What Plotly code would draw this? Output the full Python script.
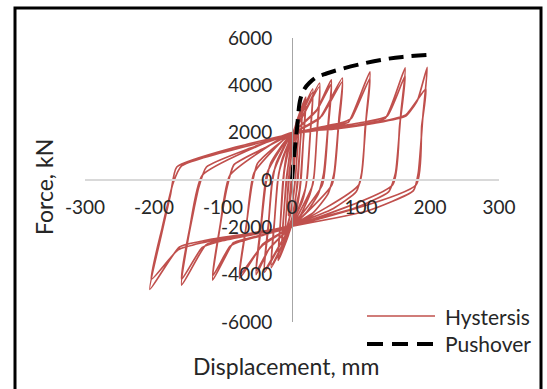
import plotly.graph_objects as go

# ---- data -------------------------------------------------------------
x_ticks = [-300, -200, -100, 0, 100, 200, 300]
x_tick_text = ["-300", "-200", "-100", "0", "100", "200", "300"]
y_ticks = [-6000, -4000, -2000, 0, 2000, 4000, 6000]
y_tick_text = ["-6000", "-4000", "-2000", "0", "2000", "4000", "6000"]

# Monotonic pushover curve (mm, kN)
push_disp = [0, 3, 7, 12, 18, 25, 36, 50, 70, 100, 130, 160, 200]
push_force = [0, 1000, 2100, 3400, 3850, 4100, 4350, 4500, 4680, 4900, 5080, 5200, 5290]

# Cyclic response, one block per amplitude level (two cycles each)
lvl05_disp = [0, 2, 5, 3, 0, -3, -5, -3, 0, 3, 5, 2, -2, -5, -2, 0]
lvl05_force = [0, 800, 1500, 600, -200, -900, -1500, -600, 200, 900, 1450, 300, -700, -1450, -300, 300]

lvl10_disp = [4, 8, 10, 8, 5, 0, -5, -10, -8, -5, 0, 5, 10, 7, 3, -3, -10, -7, -3, 0]
lvl10_force = [1300, 2100, 2400, 1400, 100, -1100, -1800, -2300, -1300, 0, 1200, 1900, 2350, 900, -400, -1500, -2250, -900, 400, 1300]

lvl15_disp = [5, 11, 15, 12, 8, 0, -6, -11, -15, -12, -8, 0, 6, 15, 11, 6, 0, -7, -15, -11, -6, 0]
lvl15_force = [2000, 2600, 3000, 1600, -200, -1600, -2100, -2500, -2900, -1500, 100, 1600, 2100, 2950, 1200, -600, -1700, -2200, -2850, -1100, 500, 1700]

lvl20_disp = [6, 20, 17, 13, 7, 0, -6, -20, -17, -13, -7, 0, 7, 20, 16, 11, 0, -7, -20, -16, -11, 0]
lvl20_force = [2400, 3500, 2000, 0, -1200, -1800, -2400, -3400, -1900, 0, 1200, 1850, 2450, 3400, 1500, -400, -1850, -2450, -3300, -1500, 400, 1900]

lvl30_disp = [9, 30, 27, 22, 15, 0, -9, -30, -26, -21, -14, 0, 10, 30, 26, 20, 0, -10, -30, -25, -19, 0]
lvl30_force = [2500, 3850, 2200, 100, -900, -1850, -2450, -3700, -2000, -100, 900, 1900, 2550, 3700, 1800, -300, -1900, -2500, -3600, -1600, 300, 1950]

lvl40_disp = [12, 40, 37, 32, 26, 12, 0, -12, -40, -35, -29, -23, -10, 0, 13, 40, 36, 30, 0, -13, -40, -34, -27, 0]
lvl40_force = [2500, 4100, 2400, 200, -600, -1500, -1900, -2450, -3900, -2200, -200, 700, 1500, 1950, 2550, 3950, 1900, -200, -1950, -2500, -3800, -1800, 300, 2000]

lvl55_disp = [15, 35, 57, 53, 46, 38, 20, 0, -15, -33, -52, -46, -38, -31, -15, 0, 16, 37, 57, 52, 44, 0, -16, -34, -52, -45, -36, 0]
lvl55_force = [2350, 2900, 4230, 2600, 300, -600, -1400, -1900, -2350, -2900, -4000, -2300, -200, 700, 1450, 1950, 2400, 3000, 4050, 2100, -200, -1950, -2400, -2950, -3850, -1900, 300, 2000]

lvl75_disp = [20, 40, 73, 68, 61, 52, 30, 0, -20, -42, -76, -68, -58, -50, -25, 0, 21, 43, 73, 67, 58, 0, -21, -44, -76, -66, -55, 0]
lvl75_force = [2250, 2600, 4310, 2600, 300, -600, -1400, -1900, -2300, -2700, -4150, -2300, -200, 700, 1400, 1950, 2300, 2700, 4150, 2100, -200, -1950, -2350, -2800, -4000, -1900, 300, 2000]

lvl113_disp = [35, 70, 82, 113, 108, 101, 93, 60, 0, -35, -75, -85, -115, -106, -94, -84, -40, 0, 36, 75, 86, 113, 106, 97, 0, -38, -80, -90, -115, -104, -90, 0]
lvl113_force = [2150, 2350, 2450, 4570, 2800, 300, -500, -1200, -1900, -2250, -2550, -2650, -4230, -2300, -300, 650, 1350, 1950, 2200, 2450, 2600, 4300, 2200, -200, -1950, -2300, -2650, -2800, -4050, -1900, 200, 2000]

lvl160_disp = [50, 100, 135, 164, 158, 150, 140, 90, 0, -50, -100, -125, -160, -150, -135, -124, -60, 0, 52, 105, 138, 164, 156, 146, 0, -55, -105, -130, -160, -148, -130, 0]
lvl160_force = [2150, 2350, 2600, 4740, 2900, 300, -500, -1200, -1900, -2250, -2500, -2750, -4440, -2400, -300, 550, 1350, 1950, 2200, 2450, 2700, 4400, 2300, -200, -1950, -2300, -2600, -2850, -4200, -2000, 200, 2000]

lvl200_disp = [60, 120, 165, 182, 196, 190, 183, 176, 110, 0, -60, -125, -163, -206, -190, -176, -167, -80, 0, 62, 125, 165, 194, 188, 180, 0, -65, -130, -165, -204, -188, -172, -160, 0]
lvl200_force = [2150, 2400, 2700, 3380, 4760, 2800, 300, -450, -1300, -1950, -2250, -2550, -2830, -4620, -2400, -600, 550, 1400, 1950, 2200, 2450, 2750, 3850, 2300, -200, -1950, -2300, -2650, -2950, -4200, -2000, -100, 600, 1900]

levels = [
    (lvl05_disp, lvl05_force), (lvl10_disp, lvl10_force), (lvl15_disp, lvl15_force),
    (lvl20_disp, lvl20_force), (lvl30_disp, lvl30_force), (lvl40_disp, lvl40_force),
    (lvl55_disp, lvl55_force), (lvl75_disp, lvl75_force), (lvl113_disp, lvl113_force),
    (lvl160_disp, lvl160_force), (lvl200_disp, lvl200_force),
]
hyst_disp, hyst_force = [], []
for d, f in levels:
    hyst_disp += d
    hyst_force += f

# ---- layout helpers (pixel -> paper) ----------------------------------
W, H = 547, 389
L, R, T, B = 85, 499, 38, 322


def px(x):
    return (x - L) / (R - L)


def py(y):
    return (B - y) / (B - T)


FONT = "Lato, 'Open Sans', sans-serif"
RED = "#C0504D"
TXT = "#262626"

fig = go.Figure()
fig.add_trace(go.Scatter(x=hyst_disp, y=hyst_force, mode="lines",
                         line=dict(color=RED, width=1.7, shape="spline", smoothing=0.5),
                         name="Hystersis", showlegend=False))
fig.add_trace(go.Scatter(x=push_disp, y=push_force, mode="lines",
                         line=dict(color="black", width=4, dash="15px,8px", shape="spline"),
                         name="Pushover", showlegend=False))

fig.update_layout(
    width=W, height=H,
    margin=dict(l=L, r=W - R, t=T, b=H - B),
    paper_bgcolor="white", plot_bgcolor="white",
    font=dict(family=FONT, color=TXT, size=18),
    xaxis=dict(range=[-300, 300], tickvals=x_ticks, ticktext=x_tick_text,
               showgrid=False, zeroline=False, showline=True,
               linecolor="#D9D9D9", linewidth=2, ticks="",
               anchor="free", position=0.5, ticklabelstandoff=10,
               tickfont=dict(size=19, color=TXT, family=FONT)),
    yaxis=dict(range=[-6000, 6000], tickvals=y_ticks, ticktext=y_tick_text,
               showgrid=False, zeroline=False, showline=True,
               linecolor="#A6A6A6", linewidth=1, ticks="",
               anchor="free", position=0.5, ticklabelstandoff=16,
               tickfont=dict(size=19, color=TXT, family=FONT)),
    showlegend=False,
)


def label(text, x, y, size, angle=0, xanchor="center"):
    fig.add_annotation(text=text, x=px(x), y=py(y), xref="paper", yref="paper",
                       xanchor=xanchor, yanchor="middle", textangle=angle,
                       showarrow=False, font=dict(size=size, color=TXT, family=FONT))


# Axis titles
label("Force, kN", 44, 187, 23, angle=-90)
label("Displacement, mm", 286, 366, 23)

# Legend
fig.add_shape(type="line", xref="paper", yref="paper", x0=px(367), x1=px(435),
              y0=py(316), y1=py(316), line=dict(color=RED, width=1.7))
fig.add_shape(type="line", xref="paper", yref="paper", x0=px(367), x1=px(435),
              y0=py(344), y1=py(344), line=dict(color="black", width=4, dash="16px,9px"))
label("Hystersis", 443, 316, 21, xanchor="left")
label("Pushover", 443, 344, 21, xanchor="left")

# Chart frame
fig.add_shape(type="rect", xref="paper", yref="paper", x0=px(15), x1=px(541),
              y0=py(400), y1=py(8), line=dict(color="black", width=3))

fig.write_html("out.html")
